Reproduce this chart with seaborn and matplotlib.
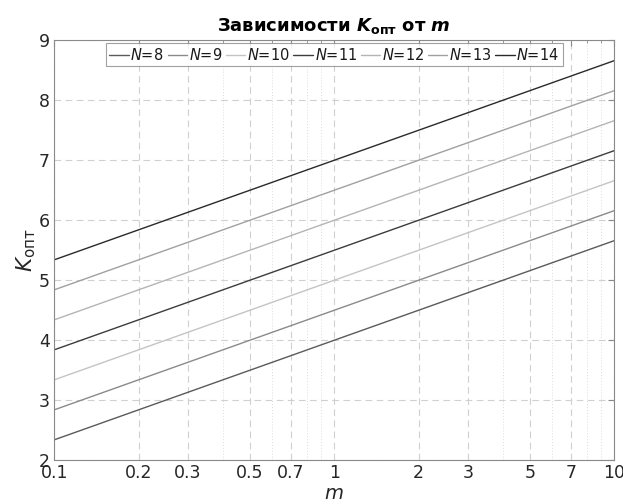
import numpy as np
import pandas as pd
import matplotlib
matplotlib.use("Agg")
import matplotlib.pyplot as plt
import matplotlib.ticker as mticker
import seaborn as sns

m_vals = [0.1, 1, 10]
K_N8 = [2.34, 4.00, 5.66]
K_N9 = [2.84, 4.50, 6.16]
K_N10 = [3.34, 5.00, 6.66]
K_N11 = [3.84, 5.50, 7.16]
K_N12 = [4.34, 6.00, 7.66]
K_N13 = [4.84, 6.50, 8.16]
K_N14 = [5.34, 7.00, 8.66]
N_labels = ["8", "9", "10", "11", "12", "13", "14"]
series = [K_N8, K_N9, K_N10, K_N11, K_N12, K_N13, K_N14]
x_ticks = [0.1, 0.2, 0.3, 0.5, 0.7, 1, 2, 3, 5, 7, 10]
x_tick_labels = ["0.1", "0.2", "0.3", "0.5", "0.7", "1", "2", "3", "5", "7", "10"]
x_minor = [0.4, 0.6, 0.8, 0.9, 4, 6, 8, 9]
colors = ["#5a5a5a", "#8a8a8a", "#c4c4c4", "#3c3c3c", "#b4b4b4", "#a0a0a0", "#2a2a2a"]

rows = []
for lab, vals in zip(N_labels, series):
    for m, k in zip(m_vals, vals):
        rows.append({"m": m, "K": k, "N": f"$N$={lab}"})
df = pd.DataFrame(rows)

sns.set_style("white")
plt.rcParams["font.family"] = ["DejaVu Sans"]
plt.rcParams["mathtext.fontset"] = "dejavusans"

fig = plt.figure(figsize=(6.23, 5.03), dpi=100)
ax = fig.add_axes([0.087, 0.085, 0.899, 0.835])

palette = dict(zip([f"$N$={l}" for l in N_labels], colors))
sns.lineplot(data=df, x="m", y="K", hue="N", palette=palette, ax=ax, linewidth=1.0)

ax.set_xscale("log")
ax.set_xlim(0.1, 10)
ax.set_ylim(2, 9)
ax.xaxis.set_major_locator(mticker.FixedLocator(x_ticks))
ax.xaxis.set_major_formatter(mticker.FixedFormatter(x_tick_labels))
ax.xaxis.set_minor_locator(mticker.FixedLocator(x_minor))
ax.xaxis.set_minor_formatter(mticker.NullFormatter())
ax.set_yticks(range(2, 10))

ax.grid(True, which="major", axis="both", linestyle=(0, (6, 4)), color="#d0d0d0", linewidth=0.8)
ax.grid(True, which="minor", axis="x", linestyle=(0, (1, 2)), color="#dcdcdc", linewidth=0.7)

for s in ax.spines.values():
    s.set_color("#8a8a8a")
    s.set_linewidth(0.8)
ax.tick_params(axis="both", which="major", direction="in", length=4, color="#8a8a8a",
               labelsize=12.5, labelcolor="#262626", top=True, right=True, pad=3)
ax.tick_params(axis="x", which="minor", direction="in", length=2, color="#8a8a8a", top=True)

ax.set_xlabel("$m$", fontsize=14, color="#262626", labelpad=1)
ax.set_ylabel(r"$K_{\mathrm{опт}}$", fontsize=15.5, color="#262626", labelpad=1)
ax.set_title(r"Зависимости $\mathbfit{K}_{\mathbf{опт}}$ от $\mathbfit{m}$",
             fontsize=13, fontweight="bold", color="black", pad=7)

leg = ax.legend(loc="upper center", ncol=7, fontsize=10.5, handlelength=1.35,
                handletextpad=0.1, columnspacing=0.25, frameon=True, fancybox=False,
                borderpad=0.25, borderaxespad=0.2, bbox_to_anchor=(0.5, 1.0))
leg.get_frame().set_edgecolor("#8a8a8a")
leg.get_frame().set_linewidth(0.8)
for t in leg.get_texts():
    t.set_color("#1a1a1a")

fig.savefig("out.png", dpi=100)
